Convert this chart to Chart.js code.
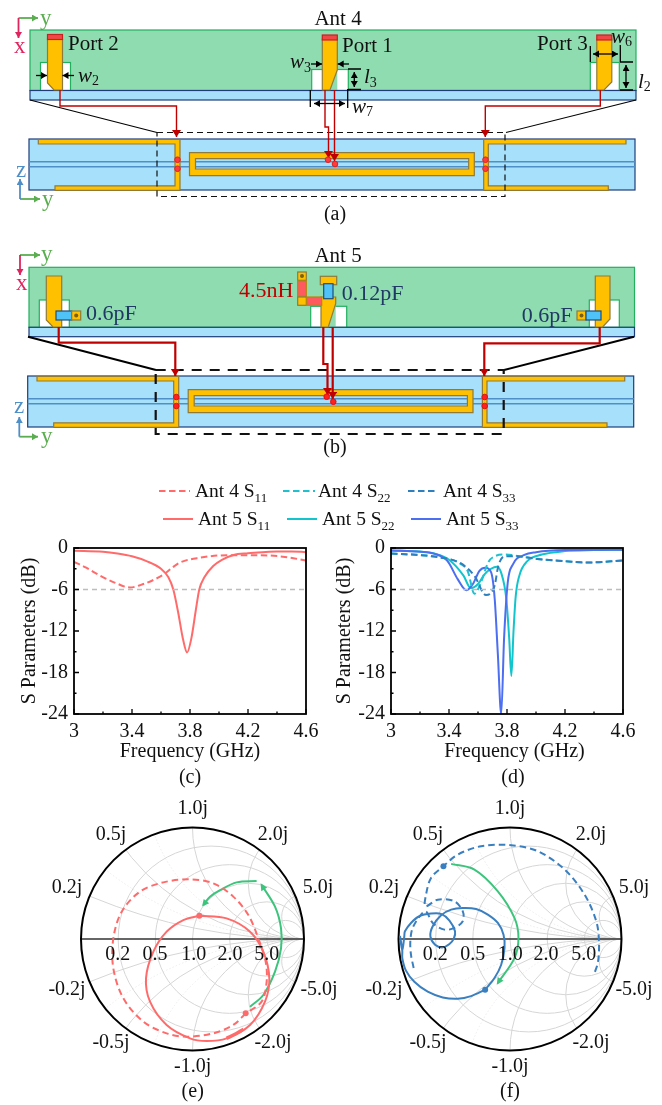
<!DOCTYPE html>
<html>
<head>
<meta charset="utf-8">
<title>Ant 4 / Ant 5</title>
<script src="https://cdn.jsdelivr.net/npm/chart.js@4"></script>
<style>
  html, body { margin: 0; padding: 0; background: #fff; }
  #page { position: relative; width: 662px; height: 1105px; overflow: hidden; }
  #page canvas { position: absolute; }
  #overlay { position: absolute; left: 0; top: 0; pointer-events: none; font-family: "Liberation Serif", serif; font-size: 20px; fill: #111; }
  .board { fill: #a6e0fb; stroke: #1f3c7a; stroke-width: 1.2; }
  .ground { fill: #8fdcb0; stroke: #22b05f; stroke-width: 1.2; }
  .notch { fill: #fff; stroke: #22b05f; stroke-width: 1.2; }
  .gold { fill: #ffc000; stroke: #8f7a3a; stroke-width: 1.2; }
  .slot { fill: none; stroke: #4f8fc8; stroke-width: 1.4; }
  .feed { fill: none; stroke: #c00000; stroke-width: 1.4; }
  .feedB { fill: none; stroke: #c00000; stroke-width: 2.2; }
  .dim { fill: none; stroke: #000; stroke-width: 1.3; }
  .cap { fill: #4fc3f7; stroke: #1f4e79; stroke-width: 1.2; }
  .ind { fill: #ff5a5f; stroke: #b8860b; stroke-width: 1.2; }
  .mid { text-anchor: middle; }
  .it { font-style: italic; font-size: 21px; }
  .big { font-size: 21px; }
  .axis { font-size: 23px; }
  .legend { font-size: 19.5px; }
  .part { font-size: 22px; }
</style>
</head>
<body>
<div id="page">
  <canvas id="chartC" style="left:0;top:530px" width="331" height="240"></canvas>
  <canvas id="chartD" style="left:331px;top:530px" width="331" height="240"></canvas>
  <canvas id="chartE" style="left:0;top:800px" width="331" height="290"></canvas>
  <canvas id="chartF" style="left:331px;top:800px" width="331" height="290"></canvas>

  <svg id="overlay" width="662" height="1105" viewBox="0 0 662 1105">
    <defs>
      <marker id="hRed" markerUnits="userSpaceOnUse" markerWidth="10" markerHeight="10" refX="7" refY="4.5" orient="auto"><path d="M0,0L7,4.5L0,9z" fill="#c00000"/></marker>
      <marker id="hBlack" markerUnits="userSpaceOnUse" markerWidth="8" markerHeight="8" refX="6" refY="3.5" orient="auto-start-reverse"><path d="M0,0L6,3.5L0,7z" fill="#000"/></marker>
      <marker id="hGreen" markerUnits="userSpaceOnUse" markerWidth="8" markerHeight="8" refX="6" refY="3.5" orient="auto"><path d="M0,0L6,3.5L0,7z" fill="#5bae4f"/></marker>
      <marker id="hPink" markerUnits="userSpaceOnUse" markerWidth="8" markerHeight="8" refX="6" refY="3.5" orient="auto"><path d="M0,0L6,3.5L0,7z" fill="#e0245e"/></marker>
      <marker id="hBlue" markerUnits="userSpaceOnUse" markerWidth="8" markerHeight="8" refX="6" refY="3.5" orient="auto"><path d="M0,0L6,3.5L0,7z" fill="#4f8fc8"/></marker>
      <g id="lowerBoard">
        <rect class="board" x="29" y="139" width="606" height="51"/>
        <path class="slot" d="M29,161.7H635M29,166.7H635"/>
        <path class="gold" d="M38.3,139.5H180V190.3H55V185.8H175V144H38.3z"/>
        <path class="gold" d="M483.7,139.5H626V144H488.3V185.8H608.3V190.3H483.7z"/>
        <path class="gold" fill-rule="evenodd" d="M189.5,152.7H474.3V175.7H189.5zM195.5,158.7V169H468.7V158.7z"/>
      </g>
    </defs>

    <!-- panel a -->
    <path d="M18.5,18H38" stroke="#5bae4f" stroke-width="1.8" marker-end="url(#hGreen)"/>
    <path d="M18.5,18V38" stroke="#e0245e" stroke-width="1.8" marker-end="url(#hPink)"/>
    <text class="axis" x="40" y="25" fill="#5bae4f">y</text>
    <text class="axis" x="14" y="53" fill="#e0245e">x</text>
    <text class="mid big" x="338" y="25">Ant 4</text>

    <rect class="ground" x="30" y="30" width="606" height="60.5"/>
    <rect class="notch" x="40.5" y="62.5" width="30" height="28"/>
    <rect class="notch" x="311.7" y="69.5" width="36.6" height="21"/>
    <rect class="notch" x="590.3" y="62.5" width="29" height="28"/>
    <path d="M330,90L337.3,69.5V90z" fill="#8fdcb0"/>
    <rect class="board" x="30" y="90.5" width="606" height="9.5"/>
    <path class="gold" d="M47.5,39H62.5V90H54L47.5,83z"/>
    <path class="gold" d="M322.3,39H337.3V70L330,90H322.3z"/>
    <path class="gold" d="M596.8,39H611.8V82L604,90H596.8z"/>
    <g fill="#f04848" stroke="#c82020" stroke-width="1.2">
      <rect x="47.5" y="34.5" width="15" height="5"/>
      <rect x="322.3" y="35" width="15" height="5"/>
      <rect x="596.8" y="35" width="15" height="5"/>
    </g>

    <path d="M30,100L157,132.5M636,100L506,132.5" stroke="#000" stroke-width="1.2"/>
    <use href="#lowerBoard"/>
    <rect x="157" y="132.5" width="348" height="64" fill="none" stroke="#111" stroke-width="1.2" stroke-dasharray="6,4"/>
    <path class="feed" d="M60,90V106H176.5V137" marker-end="url(#hRed)"/>
    <path class="feed" d="M600.3,90V106H485.3V137" marker-end="url(#hRed)"/>
    <path class="feed" d="M325,90V127H328.5V158" marker-end="url(#hRed)"/>
    <path class="feed" d="M334.5,90V161" marker-end="url(#hRed)"/>
    <g fill="#ff3b3b" stroke="#e02020" stroke-width="1">
      <circle cx="177.5" cy="159.7" r="2.8"/><circle cx="177.5" cy="168.7" r="2.8"/>
      <circle cx="485.5" cy="159.7" r="2.8"/><circle cx="485.5" cy="168.7" r="2.8"/>
      <circle cx="328" cy="159.7" r="2.8"/><circle cx="335" cy="164" r="2.8"/>
    </g>

    <text class="big" x="68" y="50">Port 2</text>
    <text class="big" x="342" y="51.5">Port 1</text>
    <text class="big" x="537" y="50">Port 3</text>
    <path class="dim" d="M36,75.5H47" marker-end="url(#hBlack)"/>
    <path class="dim" d="M74,75.5H62.5" marker-end="url(#hBlack)"/>
    <text class="it" x="78" y="82">w<tspan dy="3" font-size="14" font-style="normal">2</tspan></text>
    <path class="dim" d="M311,64H322" marker-end="url(#hBlack)"/>
    <path class="dim" d="M349,64H337.7" marker-end="url(#hBlack)"/>
    <text class="it" x="290" y="68">w<tspan dy="4" font-size="14" font-style="normal">3</tspan></text>
    <path class="dim" d="M348,69H361M348,89.5H361M347.7,89V108M310.3,90V107" stroke-width="1.6"/>
    <path class="dim" d="M354.3,72V87" marker-start="url(#hBlack)" marker-end="url(#hBlack)"/>
    <path class="dim" d="M314,103.5H345" marker-start="url(#hBlack)" marker-end="url(#hBlack)"/>
    <text class="it" x="364" y="83">l<tspan dy="4" font-size="14" font-style="normal">3</tspan></text>
    <text class="it" x="352" y="113">w<tspan dy="3" font-size="14" font-style="normal">7</tspan></text>
    <path class="dim" d="M590.3,46V62M620.3,45V62M620,62H633M620,90H633" stroke-width="1.6"/>
    <path class="dim" d="M593,54H618" marker-start="url(#hBlack)" marker-end="url(#hBlack)"/>
    <path class="dim" d="M626,65V88" marker-start="url(#hBlack)" marker-end="url(#hBlack)"/>
    <text class="it" x="611" y="43">w<tspan dy="3" font-size="14" font-style="normal">6</tspan></text>
    <text class="it" x="638" y="88">l<tspan dy="3" font-size="14" font-style="normal">2</tspan></text>

    <path d="M20,199H40" stroke="#5bae4f" stroke-width="1.8" marker-end="url(#hGreen)"/>
    <path d="M20,199V179" stroke="#4f8fc8" stroke-width="1.8" marker-end="url(#hBlue)"/>
    <text class="axis" x="42" y="206" fill="#5bae4f">y</text>
    <text class="axis" x="16" y="177" fill="#4f8fc8">z</text>
    <text class="mid" x="335" y="220">(a)</text>

    <!-- panel b -->
    <path d="M20,255H40" stroke="#5bae4f" stroke-width="1.8" marker-end="url(#hGreen)"/>
    <path d="M20,255V275" stroke="#e0245e" stroke-width="1.8" marker-end="url(#hPink)"/>
    <text class="axis" x="41" y="261" fill="#5bae4f">y</text>
    <text class="axis" x="16" y="290" fill="#e0245e">x</text>
    <text class="mid big" x="338" y="262">Ant 5</text>

    <rect class="ground" x="29" y="267.3" width="605.5" height="60"/>
    <rect class="notch" x="39.3" y="300" width="30" height="27.3"/>
    <rect class="notch" x="310.7" y="306.3" width="36" height="21"/>
    <rect class="notch" x="589.3" y="300" width="30" height="27.3"/>
    <path d="M328.3,327.3L335.7,304V327.3z" fill="#8fdcb0"/>
    <rect class="board" x="29" y="327.3" width="605.5" height="9.4"/>
    <path class="gold" d="M46.3,276H61.7V327H53L46.3,320z"/>
    <path class="gold" d="M595.3,276H610V319L602.7,327H595.3z"/>
    <path class="gold" d="M321,297H335.7V303.7L328.3,327H321z"/>
    <rect class="gold" x="320.3" y="276.3" width="16.4" height="8.4"/>
    <rect class="cap" x="323.7" y="283.7" width="9.3" height="15"/>
    <rect class="cap" x="56" y="311" width="15.7" height="9"/>
    <rect class="gold" x="71.7" y="311" width="9" height="9"/>
    <circle cx="76.2" cy="315.5" r="2" fill="#7a6010"/>
    <rect class="gold" x="577" y="311" width="9" height="9"/>
    <circle cx="581.5" cy="315.5" r="2" fill="#7a6010"/>
    <rect class="cap" x="586" y="311" width="15" height="9"/>
    <rect class="gold" x="297.7" y="272" width="8.6" height="8.3"/>
    <circle cx="302" cy="276" r="2" fill="#7a6010"/>
    <rect class="ind" x="297.7" y="281" width="8.6" height="15.3"/>
    <rect class="gold" x="297.7" y="297" width="8.6" height="8.3"/>
    <rect class="ind" x="306.7" y="297" width="15" height="8.3"/>

    <path d="M28,336.7L156,370M634,336.7L504,370" stroke="#000" stroke-width="2"/>
    <use href="#lowerBoard" transform="translate(-1.3,237)"/>
    <rect x="155.7" y="370" width="348" height="64" fill="none" stroke="#111" stroke-width="2.2" stroke-dasharray="10,8"/>
    <path class="feedB" d="M58.7,327V342.7H175.3V376" marker-end="url(#hRed)"/>
    <path class="feedB" d="M599.7,327V343.3H484.3V376" marker-end="url(#hRed)"/>
    <path class="feedB" d="M323.3,327V364H327.5V395" marker-end="url(#hRed)"/>
    <path class="feedB" d="M332.7,327V399" marker-end="url(#hRed)"/>
    <g fill="#ff2020" stroke="#e01010" stroke-width="1">
      <circle cx="176.3" cy="397" r="2.8"/><circle cx="176.3" cy="406" r="2.8"/>
      <circle cx="484.7" cy="397" r="2.8"/><circle cx="484.7" cy="406" r="2.8"/>
      <circle cx="326.7" cy="396.7" r="2.8"/><circle cx="333.3" cy="401.7" r="2.8"/>
    </g>
    <g class="part">
      <text x="86" y="320" fill="#1f3864">0.6pF</text>
      <text x="239" y="297" fill="#c00000">4.5nH</text>
      <text x="341.7" y="299.5" fill="#1f3864">0.12pF</text>
      <text x="521.7" y="321.5" fill="#1f3864">0.6pF</text>
    </g>
    <path d="M19.3,436.7H38" stroke="#5bae4f" stroke-width="1.8" marker-end="url(#hGreen)"/>
    <path d="M19.3,436.7V417" stroke="#4f8fc8" stroke-width="1.8" marker-end="url(#hBlue)"/>
    <text class="axis" x="41" y="443" fill="#5bae4f">y</text>
    <text class="axis" x="14" y="413" fill="#4f8fc8">z</text>
    <text class="mid" x="335" y="453">(b)</text>

    <!-- legend -->
    <g fill="none" stroke-width="2">
      <path d="M159,491H190" stroke="#ff6b6b" stroke-dasharray="6.5,3.5"/>
      <path d="M283,491H315" stroke="#1fc0d0" stroke-dasharray="6.5,3.5"/>
      <path d="M408,491H438" stroke="#2e7fbe" stroke-dasharray="6.5,3.5"/>
      <path d="M163,519H193" stroke="#ff6b6b"/>
      <path d="M287,519H317" stroke="#12c4cc"/>
      <path d="M411,519H441" stroke="#4c6ef0"/>
    </g>
    <g class="legend">
      <text x="195" y="497">Ant 4 S<tspan dy="5" font-size="13">11</tspan></text>
      <text x="318" y="497">Ant 4 S<tspan dy="5" font-size="13">22</tspan></text>
      <text x="443" y="497">Ant 4 S<tspan dy="5" font-size="13">33</tspan></text>
      <text x="198" y="525">Ant 5 S<tspan dy="5" font-size="13">11</tspan></text>
      <text x="322" y="525">Ant 5 S<tspan dy="5" font-size="13">22</tspan></text>
      <text x="446" y="525">Ant 5 S<tspan dy="5" font-size="13">33</tspan></text>
    </g>
    <text class="mid" x="190" y="783">(c)</text>
    <text class="mid" x="513" y="783">(d)</text>

    <!-- smith labels, left -->
    <g class="mid">
      <text x="192.7" y="814">1.0j</text>
      <text x="111" y="840">0.5j</text>
      <text x="273" y="840">2.0j</text>
      <text x="67" y="893">0.2j</text>
      <text x="318" y="893">5.0j</text>
      <text x="67" y="995">-0.2j</text>
      <text x="319" y="995">-5.0j</text>
      <text x="111" y="1048">-0.5j</text>
      <text x="273" y="1048">-2.0j</text>
      <text x="192.7" y="1072">-1.0j</text>
      <text x="192.7" y="1097">(e)</text>
      <text x="117.7" y="960">0.2</text>
      <text x="155" y="960">0.5</text>
      <text x="193.7" y="960">1.0</text>
      <text x="230" y="960">2.0</text>
      <text x="266.7" y="960">5.0</text>
    </g>
    <!-- smith labels, right -->
    <g class="mid">
      <text x="510" y="814">1.0j</text>
      <text x="428" y="840">0.5j</text>
      <text x="591" y="840">2.0j</text>
      <text x="384" y="893">0.2j</text>
      <text x="634" y="893">5.0j</text>
      <text x="384" y="995">-0.2j</text>
      <text x="634" y="995">-5.0j</text>
      <text x="428" y="1048">-0.5j</text>
      <text x="591" y="1048">-2.0j</text>
      <text x="510" y="1072">-1.0j</text>
      <text x="510" y="1097">(f)</text>
      <text x="435.3" y="960">0.2</text>
      <text x="472.7" y="960">0.5</text>
      <text x="510.3" y="960">1.0</text>
      <text x="546" y="960">2.0</text>
      <text x="583.7" y="960">5.0</text>
    </g>
  </svg>
</div>

<script>
// tick labels
const freqTickLabels = [3, 3.4, 3.8, 4.2, 4.6];
const dbTickLabels = [0, -6, -12, -18, -24];

// S parameters as [GHz, dB]
const ant4S11 = [[3,-2],[3.08,-2.8],[3.18,-4],[3.28,-5],[3.386,-5.7],[3.48,-5.2],[3.55,-4.6],[3.62,-3.8],[3.68,-2.8],[3.73,-2.1],[3.87,-1.4],[4.05,-1.05],[4.28,-1.05],[4.44,-1.25],[4.6,-1.8]];
const ant5S11 = [[3,-0.4],[3.2,-0.55],[3.3,-0.8],[3.4,-1.2],[3.5,-1.9],[3.6,-3],[3.65,-4.2],[3.685,-6],[3.72,-9.5],[3.75,-13],[3.78,-15.1],[3.81,-13],[3.84,-9],[3.864,-6],[3.9,-4.2],[3.96,-2.6],[4.02,-1.7],[4.1,-1],[4.2,-0.75],[4.3,-0.6],[4.4,-0.5],[4.5,-0.5],[4.6,-0.6]];
const ant4S22 = [[3,-0.8],[3.2,-1],[3.35,-1.4],[3.48,-2.3],[3.53,-3.4],[3.575,-6.6],[3.62,-5],[3.67,-2.1],[3.715,-1.2],[3.785,-0.95],[3.92,-1.3],[4.01,-1.6],[4.2,-1.9],[4.36,-2.1],[4.6,-1.8]];
const ant4S33 = [[3,-0.8],[3.2,-1.05],[3.35,-1.4],[3.48,-2.2],[3.575,-4],[3.655,-6.8],[3.715,-5.4],[3.74,-2.6],[3.785,-1.2],[3.875,-1.2],[4.01,-1.6],[4.2,-1.9],[4.36,-2.1],[4.6,-1.8]];
const ant5S22 = [[3,-0.35],[3.2,-0.5],[3.3,-0.8],[3.4,-1.7],[3.5,-4],[3.55,-5.8],[3.6,-5.2],[3.645,-3.8],[3.69,-3],[3.73,-2.7],[3.76,-3.6],[3.795,-7.3],[3.815,-13],[3.83,-18.5],[3.845,-12],[3.86,-7],[3.885,-4],[3.94,-1.9],[4.04,-0.95],[4.2,-0.45],[4.4,-0.3],[4.6,-0.25]];
const ant5S33 = [[3,-0.35],[3.2,-0.55],[3.3,-0.85],[3.39,-1.9],[3.46,-4.5],[3.52,-6.1],[3.565,-5.2],[3.61,-3.3],[3.65,-2.85],[3.69,-3.5],[3.715,-7.3],[3.737,-15.4],[3.76,-24],[3.78,-13],[3.805,-5],[3.84,-2.4],[3.92,-1],[4,-0.6],[4.2,-0.3],[4.6,-0.25]];
const refLevel = [[3,-6],[4.6,-6]];

// Smith chart traces, reflection coefficient [re, im]
const smithAnt5S11 = [[0.061,0.209],[0.306,0.185],[0.516,0.066],[0.635,-0.114],[0.689,-0.353],[0.65,-0.562],[0.516,-0.771],[0.306,-0.891],[0.127,-0.915],[-0.022,-0.891],[-0.232,-0.771],[-0.381,-0.562],[-0.417,-0.353],[-0.351,-0.114],[-0.232,0.066],[-0.082,0.17],[0.061,0.209]];
const smithAnt5S11Overlap = [[0.306,-0.891],[0.39,-0.85],[0.457,-0.81]];
const smithAnt4S11 = [[0.477,-0.667],[0.366,-0.771],[0.187,-0.846],[-0.052,-0.876],[-0.232,-0.846],[-0.441,-0.741],[-0.62,-0.532],[-0.71,-0.263],[-0.71,0.006],[-0.635,0.245],[-0.471,0.425],[-0.262,0.508],[-0.022,0.535],[0.187,0.499],[0.366,0.38],[0.501,0.215],[0.59,0.006],[0.656,-0.203],[0.665,-0.383],[0.62,-0.562],[0.477,-0.667]];
const smithMoveE1 = [[0.575,0.52],[0.396,0.508],[0.247,0.439],[0.157,0.38],[0.097,0.305]];
const smithMoveE2 = [[0.516,-0.607],[0.635,-0.502],[0.74,-0.293],[0.794,-0.084],[0.794,0.096],[0.74,0.29],[0.62,0.484]];
const smithDotsE = [[0.061,0.209],[0.477,-0.667]];

const smithAnt5S33 = [[-0.223,-0.455],[-0.349,-0.512],[-0.469,-0.536],[-0.603,-0.524],[-0.738,-0.473],[-0.858,-0.383],[-0.933,-0.284],[-0.966,-0.171],[-0.966,-0.105],[-0.987,0.027],[-0.966,-0.105],[-0.948,0.024],[-0.942,0.069],[-0.888,0.144],[-0.813,0.204],[-0.708,0.228],[-0.618,0.225],[-0.543,0.165],[-0.493,0.069],[-0.504,0.003],[-0.543,-0.045],[-0.603,-0.075],[-0.672,-0.051],[-0.714,0.024],[-0.693,0.114],[-0.618,0.213],[-0.528,0.263],[-0.424,0.278],[-0.304,0.269],[-0.199,0.219],[-0.109,0.144],[-0.058,0.039],[-0.049,-0.081],[-0.079,-0.231],[-0.139,-0.35],[-0.223,-0.455]];
const smithAnt4S33 = [[-0.864,-0.26],[-0.888,-0.141],[-0.894,-0.021],[-0.873,0.099],[-0.798,0.219],[-0.753,0.249],[-0.693,0.144],[-0.588,0.084],[-0.499,0.099],[-0.424,0.159],[-0.424,0.249],[-0.499,0.338],[-0.648,0.353],[-0.759,0.293],[-0.753,0.398],[-0.708,0.548],[-0.597,0.653],[-0.469,0.757],[-0.259,0.832],[0.01,0.841],[0.25,0.787],[0.49,0.623],[0.669,0.398],[0.774,0.159],[0.798,-0.021],[0.79,-0.201],[0.759,-0.305]];
const smithMoveF = [[-0.528,0.674],[-0.319,0.623],[-0.109,0.428],[0.04,0.189],[0.076,0.009],[0.04,-0.171],[-0.109,-0.395]];
const smithDotsF = [[-0.597,0.653],[-0.223,-0.455]];

// Smith grid values
const resistanceCircles = [0.2, 0.5, 1, 2, 5];
const reactanceArcs = [0.2, 0.5, 1, 2, 5];
const faintReactanceArcs = [0.35, 0.7];

const serif = '"Liberation Serif", serif';
const pink = '#ff6b6b';
const green = '#3cc47c';
const smithBlue = '#3a7fc0';

Chart.defaults.font.family = serif;
Chart.defaults.color = '#111';
Chart.defaults.animation = false;
Chart.defaults.responsive = false;

// inward ticks and the box round the plot
const framePlugin = {
    id: 'frame',
    afterDatasetsDraw(chart) {
        const { ctx, chartArea: a, scales } = chart;
        ctx.save();
        ctx.strokeStyle = '#000';
        ctx.lineWidth = 1.3;
        ctx.beginPath();
        scales.x.ticks.forEach(t => {
            const px = scales.x.getPixelForValue(t.value);
            const len = t.label ? 5 : 2.5;
            ctx.moveTo(px, a.bottom);
            ctx.lineTo(px, a.bottom - len);
        });
        scales.y.ticks.forEach(t => {
            const py = scales.y.getPixelForValue(t.value);
            const len = t.label ? 5 : 2.5;
            ctx.moveTo(a.left, py);
            ctx.lineTo(a.left + len, py);
        });
        ctx.stroke();
        ctx.lineWidth = 1.8;
        ctx.strokeRect(a.left, a.top, a.right - a.left, a.bottom - a.top);
        ctx.restore();
    }
};

function lineSet(data, color, dashed) {
    return {
        data: data,
        borderColor: color,
        borderWidth: 2,
        borderDash: dashed ? [6.5, 3.5] : [],
        pointRadius: 0,
        cubicInterpolationMode: 'monotone'
    };
}

function createSParamChart(id, sets, plotLeft, rightPad, yTitlePad, xTitle) {
    return new Chart(document.getElementById(id), {
        type: 'line',
        data: {
            datasets: [{
                data: refLevel,
                borderColor: '#bdbdbd',
                borderWidth: 1.5,
                borderDash: [5, 4],
                pointRadius: 0
            }].concat(sets)
        },
        options: {
            layout: { padding: { top: 15, right: rightPad, left: 0, bottom: 0 } },
            plugins: { legend: { display: false }, tooltip: { enabled: false } },
            scales: {
                x: {
                    type: 'linear',
                    min: 3,
                    max: 4.6,
                    afterFit: s => { s.height = 56; },
                    grid: { display: false, drawTicks: false },
                    border: { display: false },
                    ticks: {
                        stepSize: 0.2,
                        autoSkip: false,
                        maxRotation: 0,
                        padding: 6,
                        font: { size: 20 },
                        callback: v => freqTickLabels.includes(+v.toFixed(1)) ? String(+v.toFixed(1)) : ''
                    },
                    title: { display: true, text: xTitle, font: { size: 20 }, padding: { top: 0, bottom: 6 } }
                },
                y: {
                    min: -24,
                    max: 0,
                    afterFit: s => { s.width = plotLeft; },
                    grid: { display: false, drawTicks: false },
                    border: { display: false },
                    ticks: {
                        stepSize: 3,
                        autoSkip: false,
                        padding: 6,
                        font: { size: 20 },
                        callback: v => dbTickLabels.includes(v) ? String(v) : ''
                    },
                    title: { display: true, text: 'S Parameters (dB)', font: { size: 20 }, padding: { top: yTitlePad, bottom: 0 } }
                }
            }
        },
        plugins: [framePlugin]
    });
}

// the Smith grid and the outer circle
const smithGridPlugin = {
    id: 'smithGrid',
    beforeDatasetsDraw(chart) {
        const { ctx, scales } = chart;
        const px = v => scales.x.getPixelForValue(v);
        const py = v => scales.y.getPixelForValue(v);
        const unit = px(1) - px(0);
        ctx.save();
        ctx.beginPath();
        ctx.arc(px(0), py(0), unit, 0, Math.PI * 2);
        ctx.clip();
        ctx.lineWidth = 1;
        ctx.strokeStyle = '#ececec';
        ctx.setLineDash([1.5, 2]);
        faintReactanceArcs.forEach(x => {
            [x, -x].forEach(s => {
                ctx.beginPath();
                ctx.arc(px(1), py(1 / s), unit / x, 0, Math.PI * 2);
                ctx.stroke();
            });
        });
        ctx.setLineDash([]);
        ctx.strokeStyle = '#d6d6d6';
        resistanceCircles.forEach(r => {
            ctx.beginPath();
            ctx.arc(px(r / (1 + r)), py(0), unit / (1 + r), 0, Math.PI * 2);
            ctx.stroke();
        });
        reactanceArcs.forEach(x => {
            [x, -x].forEach(s => {
                ctx.beginPath();
                ctx.arc(px(1), py(1 / s), unit / x, 0, Math.PI * 2);
                ctx.stroke();
            });
        });
        ctx.restore();
        ctx.save();
        ctx.strokeStyle = '#333';
        ctx.lineWidth = 1.4;
        ctx.beginPath();
        ctx.moveTo(px(-1), py(0));
        ctx.lineTo(px(1), py(0));
        ctx.stroke();
        ctx.strokeStyle = '#000';
        ctx.lineWidth = 2;
        ctx.beginPath();
        ctx.arc(px(0), py(0), unit, 0, Math.PI * 2);
        ctx.stroke();
        ctx.restore();
    },
    // arrow heads at the end of the matching moves
    afterDatasetsDraw(chart) {
        const { ctx } = chart;
        chart.data.datasets.forEach((set, i) => {
            if (!set.arrow) return;
            const pts = chart.getDatasetMeta(i).data;
            const end = pts[pts.length - 1];
            const prev = pts[pts.length - 2];
            const ang = Math.atan2(end.y - prev.y, end.x - prev.x);
            ctx.save();
            ctx.translate(end.x, end.y);
            ctx.rotate(ang);
            ctx.fillStyle = set.borderColor;
            ctx.beginPath();
            ctx.moveTo(2, 0);
            ctx.lineTo(-5, -3.5);
            ctx.lineTo(-5, 3.5);
            ctx.closePath();
            ctx.fill();
            ctx.restore();
        });
    }
};

function smithSet(data, color, dashed) {
    return {
        data: data,
        showLine: true,
        borderColor: color,
        borderWidth: 2,
        borderDash: dashed ? [6.5, 4] : [],
        pointRadius: 0,
        tension: 0.33
    };
}

function moveSet(data) {
    const set = smithSet(data, green, false);
    set.arrow = true;
    return set;
}

function dotSet(data, color) {
    return { data: data, showLine: false, pointRadius: 3, pointBackgroundColor: color, pointBorderWidth: 0 };
}

function createSmithChart(id, sets, pad) {
    return new Chart(document.getElementById(id), {
        type: 'scatter',
        data: { datasets: sets },
        options: {
            clip: false,
            layout: { padding: pad },
            plugins: { legend: { display: false }, tooltip: { enabled: false } },
            scales: {
                x: { min: -1, max: 1, display: false },
                y: { min: -1, max: 1, display: false }
            }
        },
        plugins: [smithGridPlugin]
    });
}

createSParamChart('chartC', [
    lineSet(ant4S11, pink, true),
    lineSet(ant5S11, pink, false)
], 74, 25, 18, 'Frequency (GHz)');

// leading spaces push the title a little right of the plot centre, as in the figure
createSParamChart('chartD', [
    lineSet(ant4S33, '#2e7fbe', true),
    lineSet(ant4S22, '#1fc0d0', true),
    lineSet(ant5S33, '#4c6ef0', false),
    lineSet(ant5S22, '#12c4cc', false)
], 60, 39, 1.6, '\u00a0\u00a0\u00a0Frequency (GHz)');

const overlapSet = smithSet(smithAnt5S11Overlap, pink, false);
overlapSet.borderWidth = 3.5;

createSmithChart('chartE', [
    smithSet(smithAnt4S11, pink, true),
    smithSet(smithAnt5S11, pink, false),
    overlapSet,
    moveSet(smithMoveE1),
    moveSet(smithMoveE2),
    dotSet(smithDotsE, pink)
], { left: 81, right: 27, top: 27.5, bottom: 39.5 });

createSmithChart('chartF', [
    smithSet(smithAnt4S33, smithBlue, true),
    smithSet(smithAnt5S33, smithBlue, false),
    moveSet(smithMoveF),
    dotSet(smithDotsF, smithBlue)
], { left: 67.5, right: 40.5, top: 27.5, bottom: 39.5 });
</script>
</body>
</html>
